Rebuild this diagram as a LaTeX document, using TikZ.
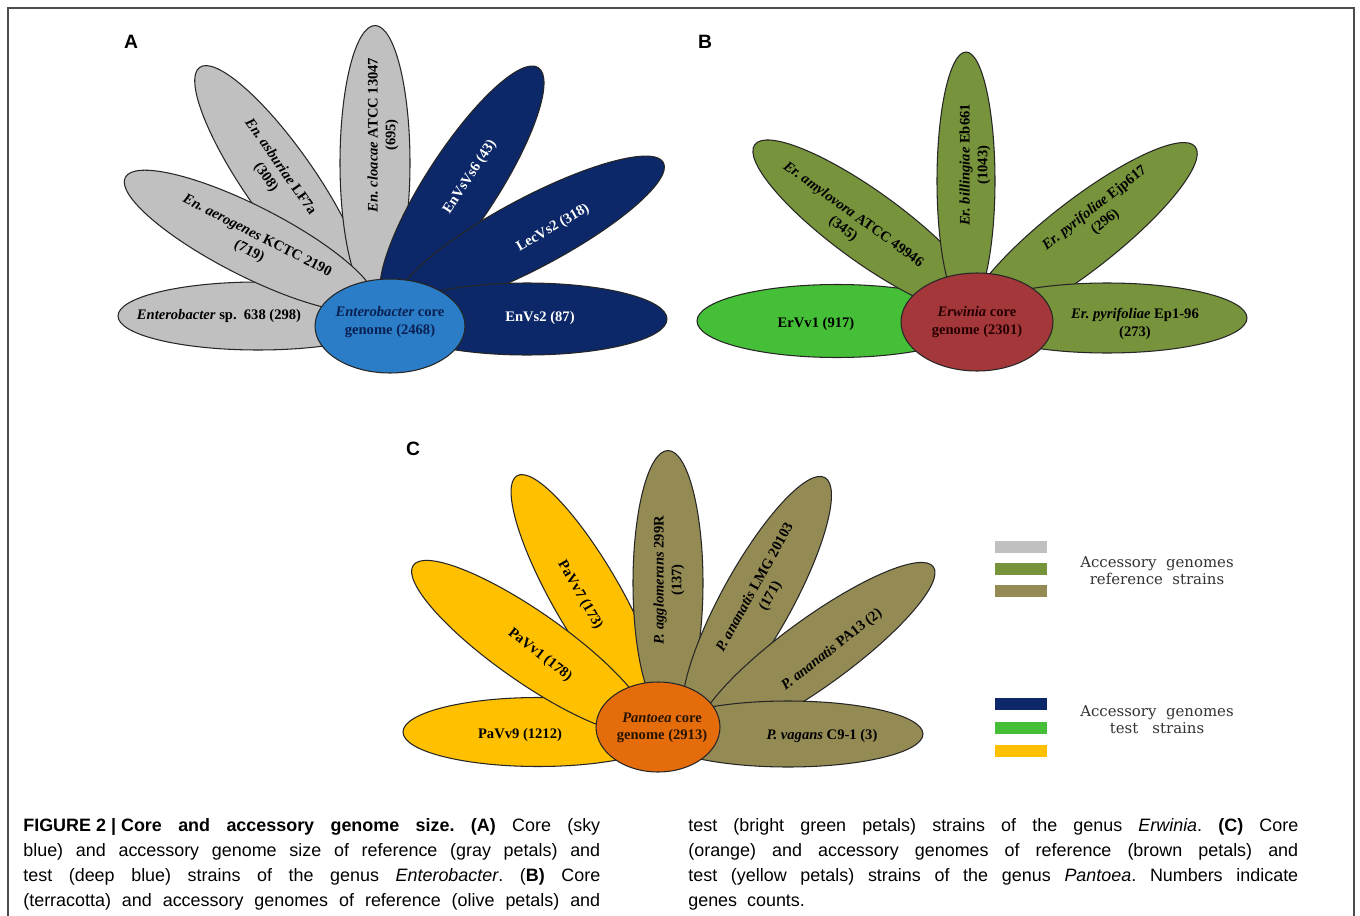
\documentclass[tikz,border=0pt]{standalone}
\usepackage{fontspec}
\setmainfont{Liberation Serif}
\setsansfont{Liberation Sans}
\newfontfamily\legendfont{DejaVu Serif}
\usetikzlibrary{shapes.geometric}
\frenchspacing
\definecolor{cgray}{HTML}{C0C0C0}
\definecolor{cnavy}{HTML}{0C2868}
\definecolor{csky}{HTML}{2A7DC6}
\definecolor{colive}{HTML}{77933C}
\definecolor{cbright}{HTML}{45BF37}
\definecolor{cterra}{HTML}{A4373A}
\definecolor{cyellow}{HTML}{FFC000}
\definecolor{ckhaki}{HTML}{948A54}
\definecolor{corange}{HTML}{E46C0A}
\tikzset{
  petal/.style={ellipse, draw=black!85, line width=0.6pt, fill=#1, inner sep=0pt},
  core/.style={ellipse, draw=black!85, line width=0.6pt, fill=#1, inner sep=0pt},
  plabel/.style={font=\fontsize{8.3}{10}\selectfont\bfseries, align=center, inner sep=0pt},
  panel/.style={font=\sffamily\bfseries\fontsize{11}{13}\selectfont, inner sep=0pt},
  swatch/.style={fill=#1, minimum width=1.04cm, minimum height=0.24cm, inner sep=0pt},
  legend/.style={font=\legendfont\fontsize{8.5}{9.6}\selectfont, text=black!80, align=center, inner sep=0pt},
  capline/.style={font=\sffamily\fontsize{10.2}{12}\selectfont, anchor=base west, inner sep=0pt},
}
\begin{document}
\begin{tikzpicture}[x=0.02cm, y=-0.02cm]
  \fill[white] (0,0) rectangle (1360,916);
  \useasboundingbox (0,0) rectangle (1360,916);
  \draw[black!70, line width=0.8pt] (8,916) -- (8,8) -- (1354,8) -- (1354,916);
  % A: Enterobacter
  \node[panel] (pa) at (131,42) {A};
  \node[petal=cgray, minimum width=5.6cm, minimum height=1.36cm] (aP1) at (258,316) {};
  \node[petal=cgray, minimum width=5.6cm, minimum height=1.4cm, rotate=-55] (aP2) at (280,182) {};
  \node[petal=cgray, minimum width=5.5cm, minimum height=1.4cm, rotate=90] (aP3) at (375,163) {};
  \node[petal=cgray, minimum width=5.6cm, minimum height=1.4cm, rotate=-27] (aP4) at (250,241) {};
  \node[petal=cnavy, minimum width=5.6cm, minimum height=1.44cm, rotate=57] (aP5) at (462,185) {};
  \node[petal=cnavy, minimum width=6cm, minimum height=1.4cm, rotate=28] (aP6) at (531,233) {};
  \node[petal=cnavy, minimum width=5.6cm, minimum height=1.44cm] (aP7) at (527,319) {};
  \node[core=csky, minimum width=3cm, minimum height=1.88cm] (aCore) at (390,326) {};
  \node[plabel] (aL1) at (219,316) {\textit{Enterobacter} sp.\ \ 638 (298)};
  \node[plabel, rotate=-55] (aL2) at (273,172) {\textit{En. asburiae} LF7a\\(308)};
  \node[plabel, rotate=90] (aL3) at (383,135) {\textit{En. cloacae} ATCC 13047\\(695)};
  \node[plabel, rotate=-27] (aL4) at (253,244) {\textit{En. aerogenes} KCTC 2190\\(719)};
  \node[plabel, text=white, rotate=57] (aL5) at (470,177) {EnVsVs6 (43)};
  \node[plabel, text=white, rotate=30] (aL6) at (553,228) {LecVs2 (318)};
  \node[plabel, text=white] (aL7) at (540,318) {EnVs2 (87)};
  \node[plabel, text=cnavy!80!black] (aLc) at (390,322) {\textit{Enterobacter} core\\genome (2468)};
  % B: Erwinia
  \node[panel] (pb) at (705,42) {B};
  \node[petal=cbright, minimum width=5.6cm, minimum height=1.46cm] (bP1) at (837,321) {};
  \node[petal=colive, minimum width=5.6cm, minimum height=1.4cm, rotate=-36] (bP2) at (868,227) {};
  \node[petal=colive, minimum width=5.16cm, minimum height=1.16cm, rotate=90] (bP3) at (966,181) {};
  \node[petal=colive, minimum width=5.8cm, minimum height=1.4cm, rotate=38] (bP4) at (1081,236) {};
  \node[petal=colive, minimum width=5.6cm, minimum height=1.4cm] (bP5) at (1107,318) {};
  \node[core=cterra, minimum width=3.04cm, minimum height=1.96cm] (bCore) at (977,322) {};
  \node[plabel] (bL1) at (816,324) {ErVv1 (917)};
  \node[plabel, rotate=-36] (bL2) at (848,222) {\textit{Er. amylovora} ATCC 49946\\(345)};
  \node[plabel, rotate=90] (bL3) at (975,165) {\textit{Er. billingiae} Eb661\\(1043)};
  \node[plabel, rotate=38] (bL4) at (1100,215) {\textit{Er. pyrifoliae} Ejp617\\(296)};
  \node[plabel] (bL5) at (1135,324) {\textit{Er. pyrifoliae} Ep1-96\\(273)};
  \node[plabel, text=black!85!red] (bLc) at (977,322) {\textit{Erwinia} core\\genome (2301)};
  % C: Pantoea
  \node[panel] (pc) at (413,449) {C};
  \node[petal=cyellow, minimum width=5.6cm, minimum height=1.36cm, rotate=-60] (cP1) at (587,597) {};
  \node[petal=cyellow, minimum width=5.4cm, minimum height=1.38cm] (cP2) at (538,732) {};
  \node[petal=cyellow, minimum width=5.7cm, minimum height=1.4cm, rotate=-35] (cP3) at (530,647) {};
  \node[petal=ckhaki, minimum width=5.3cm, minimum height=1.4cm, rotate=90] (cP4) at (668,583) {};
  \node[petal=ckhaki, minimum width=5.6cm, minimum height=1.4cm, rotate=61] (cP5) at (757,600) {};
  \node[petal=ckhaki, minimum width=5.8cm, minimum height=1.36cm, rotate=36] (cP6) at (816,652) {};
  \node[petal=ckhaki, minimum width=5.4cm, minimum height=1.32cm] (cP7) at (788,734) {};
  \node[core=corange, minimum width=2.48cm, minimum height=1.8cm] (cCore) at (658,727) {};
  \node[plabel, rotate=-60] (cL1) at (580,595) {PaVv7 (173)};
  \node[plabel] (cL2) at (520,735) {PaVv9 (1212)};
  \node[plabel, rotate=-38] (cL3) at (540,655) {PaVv1 (178)};
  \node[plabel, rotate=90] (cL4) at (669,580) {\textit{P. agglomerans} 299R\\(137)};
  \node[plabel, rotate=61] (cL5) at (763,592) {\textit{P. ananatis} LMG 20103\\(171)};
  \node[plabel, rotate=38] (cL6) at (832,650) {\textit{P. ananatis} PA13 (2)};
  \node[plabel] (cL7) at (822,736) {\textit{P. vagans} C9-1 (3)};
  \node[plabel, text=black!85!orange] (cLc) at (662,728) {\textit{Pantoea} core\\genome (2913)};
  % legend
  \node[swatch=cgray] (s1) at (1021,547) {};
  \node[swatch=colive] (s2) at (1021,569) {};
  \node[swatch=ckhaki] (s3) at (1021,591) {};
  \node[legend] (lref) at (1157,571) {Accessory\ \ genomes\\reference\ \ strains};
  \node[swatch=cnavy] (s4) at (1021,704) {};
  \node[swatch=cbright] (s5) at (1021,728) {};
  \node[swatch=cyellow] (s6) at (1021,751) {};
  \node[legend] (ltest) at (1157,720) {Accessory\ \ genomes\\test\ \ \ strains};
  % caption
  \node[capline] (cl1) at (23,831) {\makebox[11.54cm][s]{\textbf{FIGURE\hspace{0.28em}2\hspace{0.28em}|\hspace{0.28em}Core and accessory genome size. (A)} Core (sky}};
  \node[capline] (cl2) at (23,856) {\makebox[11.54cm][s]{blue) and accessory genome size of reference (gray petals) and}};
  \node[capline] (cl3) at (23,881) {\makebox[11.54cm][s]{test (deep blue) strains of the genus \textit{Enterobacter}. (\textbf{B)} Core}};
  \node[capline] (cl4) at (23,906) {\makebox[11.54cm][s]{(terracotta) and accessory genomes of reference (olive petals) and}};
  \node[capline] (cr1) at (688,831) {\makebox[12.2cm][s]{test (bright green petals) strains of the genus \textit{Erwinia}. \textbf{(C)} Core}};
  \node[capline] (cr2) at (688,856) {\makebox[12.2cm][s]{(orange) and accessory genomes of reference (brown petals) and}};
  \node[capline] (cr3) at (688,881) {\makebox[12.2cm][s]{test (yellow petals) strains of the genus \textit{Pantoea}. Numbers indicate}};
  \node[capline] (cr4) at (688,906) {genes\ \ counts.};
\end{tikzpicture}
\end{document}
